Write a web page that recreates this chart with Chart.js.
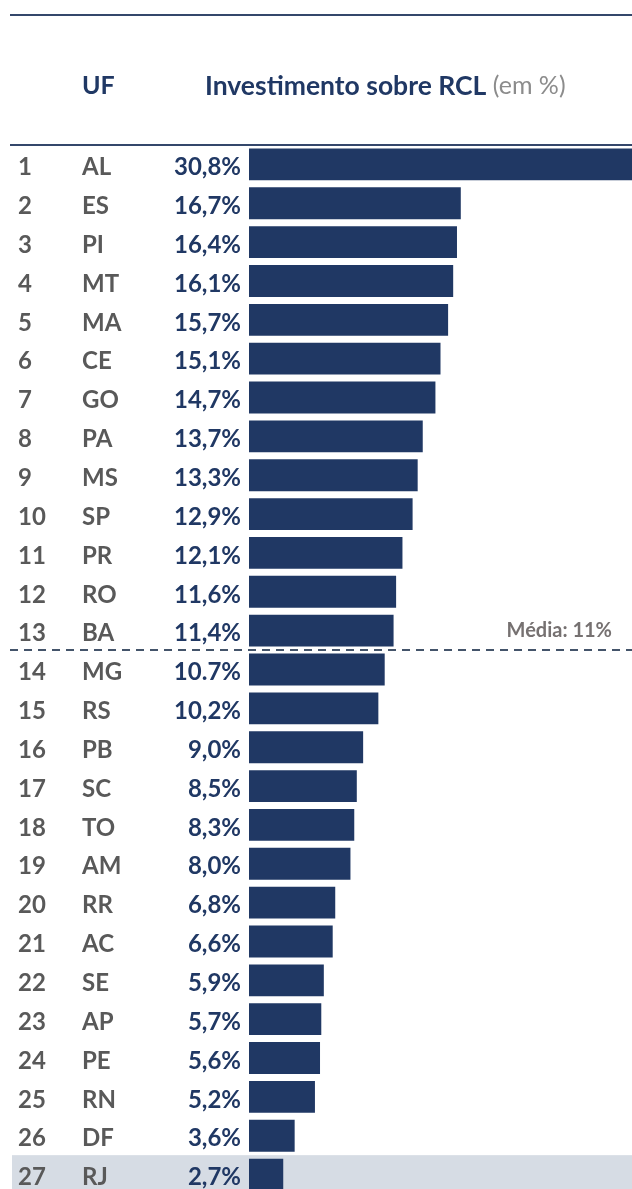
<!DOCTYPE html>
<html>
<head>
<meta charset="utf-8">
<script src="https://cdn.jsdelivr.net/npm/chart.js@4.4.1/dist/chart.umd.min.js"></script>
<style>
  html, body { margin: 0; padding: 0; background: #fff; overflow: hidden; }
  #wrap { width: 632px; height: 1194px; }
</style>
</head>
<body>
<div id="wrap"><canvas id="rcl" width="632" height="1194"></canvas></div>
<script>
// Dados: investimento sobre RCL por UF (em %)
const ranks = [1, 2, 3, 4, 5, 6, 7, 8, 9, 10, 11, 12, 13, 14, 15, 16, 17, 18, 19, 20, 21, 22, 23, 24, 25, 26, 27];
const ufs = ["AL", "ES", "PI", "MT", "MA", "CE", "GO", "PA", "MS", "SP", "PR", "RO", "BA",
             "MG", "RS", "PB", "SC", "TO", "AM", "RR", "AC", "SE", "AP", "PE", "RN", "DF", "RJ"];
const investimento = [30.8, 16.7, 16.4, 16.1, 15.7, 15.1, 14.7, 13.7, 13.3, 12.9, 12.1, 11.6, 11.4,
                      10.7, 10.2, 9.0, 8.5, 8.3, 8.0, 6.8, 6.6, 5.9, 5.7, 5.6, 5.2, 3.6, 2.7];
const valueText = ["30,8%", "16,7%", "16,4%", "16,1%", "15,7%", "15,1%", "14,7%", "13,7%", "13,3%",
                   "12,9%", "12,1%", "11,6%", "11,4%", "10.7%", "10,2%", "9,0%", "8,5%", "8,3%",
                   "8,0%", "6,8%", "6,6%", "5,9%", "5,7%", "5,6%", "5,2%", "3,6%", "2,7%"];
const media = 11;
const mediaLabel = "Média: 11%";
const destaque = "RJ";

const azul = '#203864';
const cinza = '#595959';
const fonte = 'Lato, "Open Sans", sans-serif';

// Desenha a tabela em volta das barras
const tabelaPlugin = {
    id: 'tabela',
    beforeDatasetsDraw(chart) {
        const ctx = chart.ctx;
        const y = chart.scales.y;
        const w = chart.width;
        const i = ufs.indexOf(destaque);
        const band = (y.getPixelForValue(1) - y.getPixelForValue(0));
        ctx.save();
        ctx.fillStyle = '#d6dce4';
        ctx.fillRect(12, y.getPixelForValue(i) - band / 2, w - 12, band);
        ctx.restore();
    },
    afterDatasetsDraw(chart) {
        const ctx = chart.ctx;
        const y = chart.scales.y;
        const w = chart.width;
        ctx.save();

        // linhas do topo
        ctx.strokeStyle = '#34476b';
        ctx.lineWidth = 2;
        ctx.beginPath();
        ctx.moveTo(10, 15); ctx.lineTo(w, 15);
        ctx.moveTo(10, 145); ctx.lineTo(w, 145);
        ctx.stroke();

        // cabeçalho
        ctx.textBaseline = 'middle';
        ctx.textAlign = 'left';
        ctx.fillStyle = azul;
        ctx.font = 'bold 25px ' + fonte;
        ctx.fillText('UF', 82, 86);
        ctx.font = 'bold 26.5px ' + fonte;
        const titulo = 'Investimento sobre RCL';
        ctx.fillText(titulo, 205, 86);
        const tw = ctx.measureText(titulo + ' ').width;
        ctx.fillStyle = '#8c8c8c';
        ctx.font = '25px ' + fonte;
        ctx.fillText('(em %)', 205 + tw, 86);

        // linhas da tabela
        ctx.font = 'bold 24px ' + fonte;
        ranks.forEach((r, i) => {
            const py = y.getPixelForValue(i) + 3;
            ctx.fillStyle = cinza;
            ctx.textAlign = 'left';
            ctx.fillText(String(r), 18, py);
            ctx.fillText(ufs[i], 82, py);
            ctx.fillStyle = azul;
            ctx.textAlign = 'right';
            ctx.fillText(valueText[i], 241, py);
        });

        // linha da média (entre a última UF acima e a primeira abaixo)
        const k = investimento.findIndex(v => v < media);
        const my = (y.getPixelForValue(k - 1) + y.getPixelForValue(k)) / 2;
        ctx.strokeStyle = '#44546a';
        ctx.lineWidth = 2;
        ctx.setLineDash([8, 6]);
        ctx.beginPath();
        ctx.moveTo(10, my); ctx.lineTo(w, my);
        ctx.stroke();
        ctx.setLineDash([]);

        ctx.fillStyle = '#767171';
        ctx.textAlign = 'right';
        ctx.font = 'bold 20px ' + fonte;
        ctx.fillText(mediaLabel, 612, my - 20);
        ctx.restore();
    }
};

new Chart(document.getElementById('rcl'), {
    type: 'bar',
    data: {
        labels: ufs,
        datasets: [{
            data: investimento,
            backgroundColor: azul,
            borderWidth: 0,
            barPercentage: 0.82,
            categoryPercentage: 1
        }]
    },
    options: {
        indexAxis: 'y',
        responsive: false,
        animation: false,
        layout: { padding: { left: 249, top: 145, right: 0, bottom: 0 } },
        plugins: { legend: { display: false }, tooltip: { enabled: false } },
        scales: {
            x: { display: false, min: 0, max: 30.2 },
            y: { display: false }
        }
    },
    plugins: [tabelaPlugin]
});
</script>
</body>
</html>
